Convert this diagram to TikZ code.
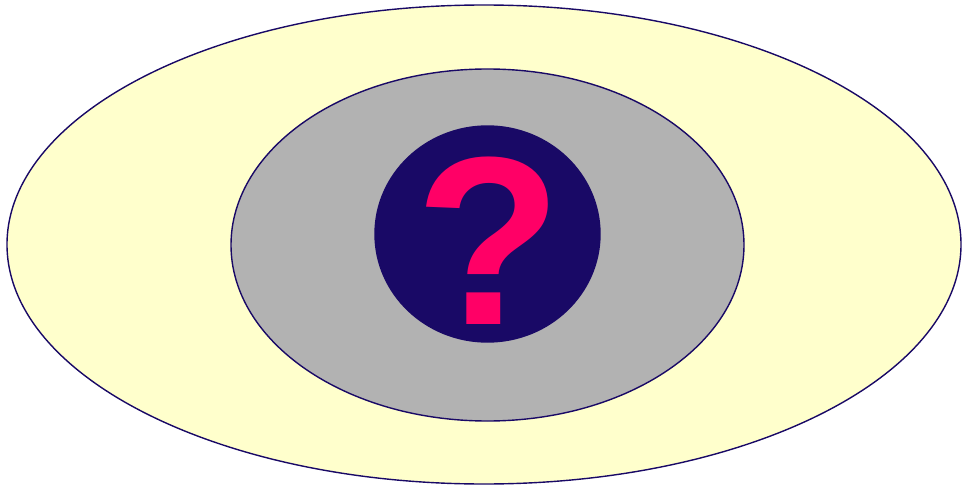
\documentclass[tikz,border=0pt]{standalone}
\usepackage{fontspec}
\setmainfont{Liberation Sans}
\usetikzlibrary{shapes.geometric}
\definecolor{eyeyellow}{RGB}{255,255,204}
\definecolor{eyegray}{RGB}{178,178,178}
\definecolor{eyenavy}{RGB}{25,9,102}
\definecolor{eyepink}{RGB}{255,0,102}

\begin{document}
\begin{tikzpicture}[x=1pt, y=-1pt,
        ring/.style={draw=eyenavy, line width=1.4pt, ellipse, inner sep=0pt}
      ]
        \useasboundingbox (0,0) rectangle (962,487);

        \node[ring, fill=eyeyellow, minimum width=954pt, minimum height=479pt] (outer) at (484,244.5) {};
        \node[ring, fill=eyegray, minimum width=513pt, minimum height=352pt] (middle) at (487.5,245) {};
        \node[ring, fill=eyenavy, minimum width=225pt, minimum height=216pt] (pupil) at (487.5,234) {};

        \node[inner sep=0pt, text=eyepink, font=\fontsize{240}{240}\selectfont\bfseries] (mark) at (488.5,241) {?};
      \end{tikzpicture}
\end{document}
